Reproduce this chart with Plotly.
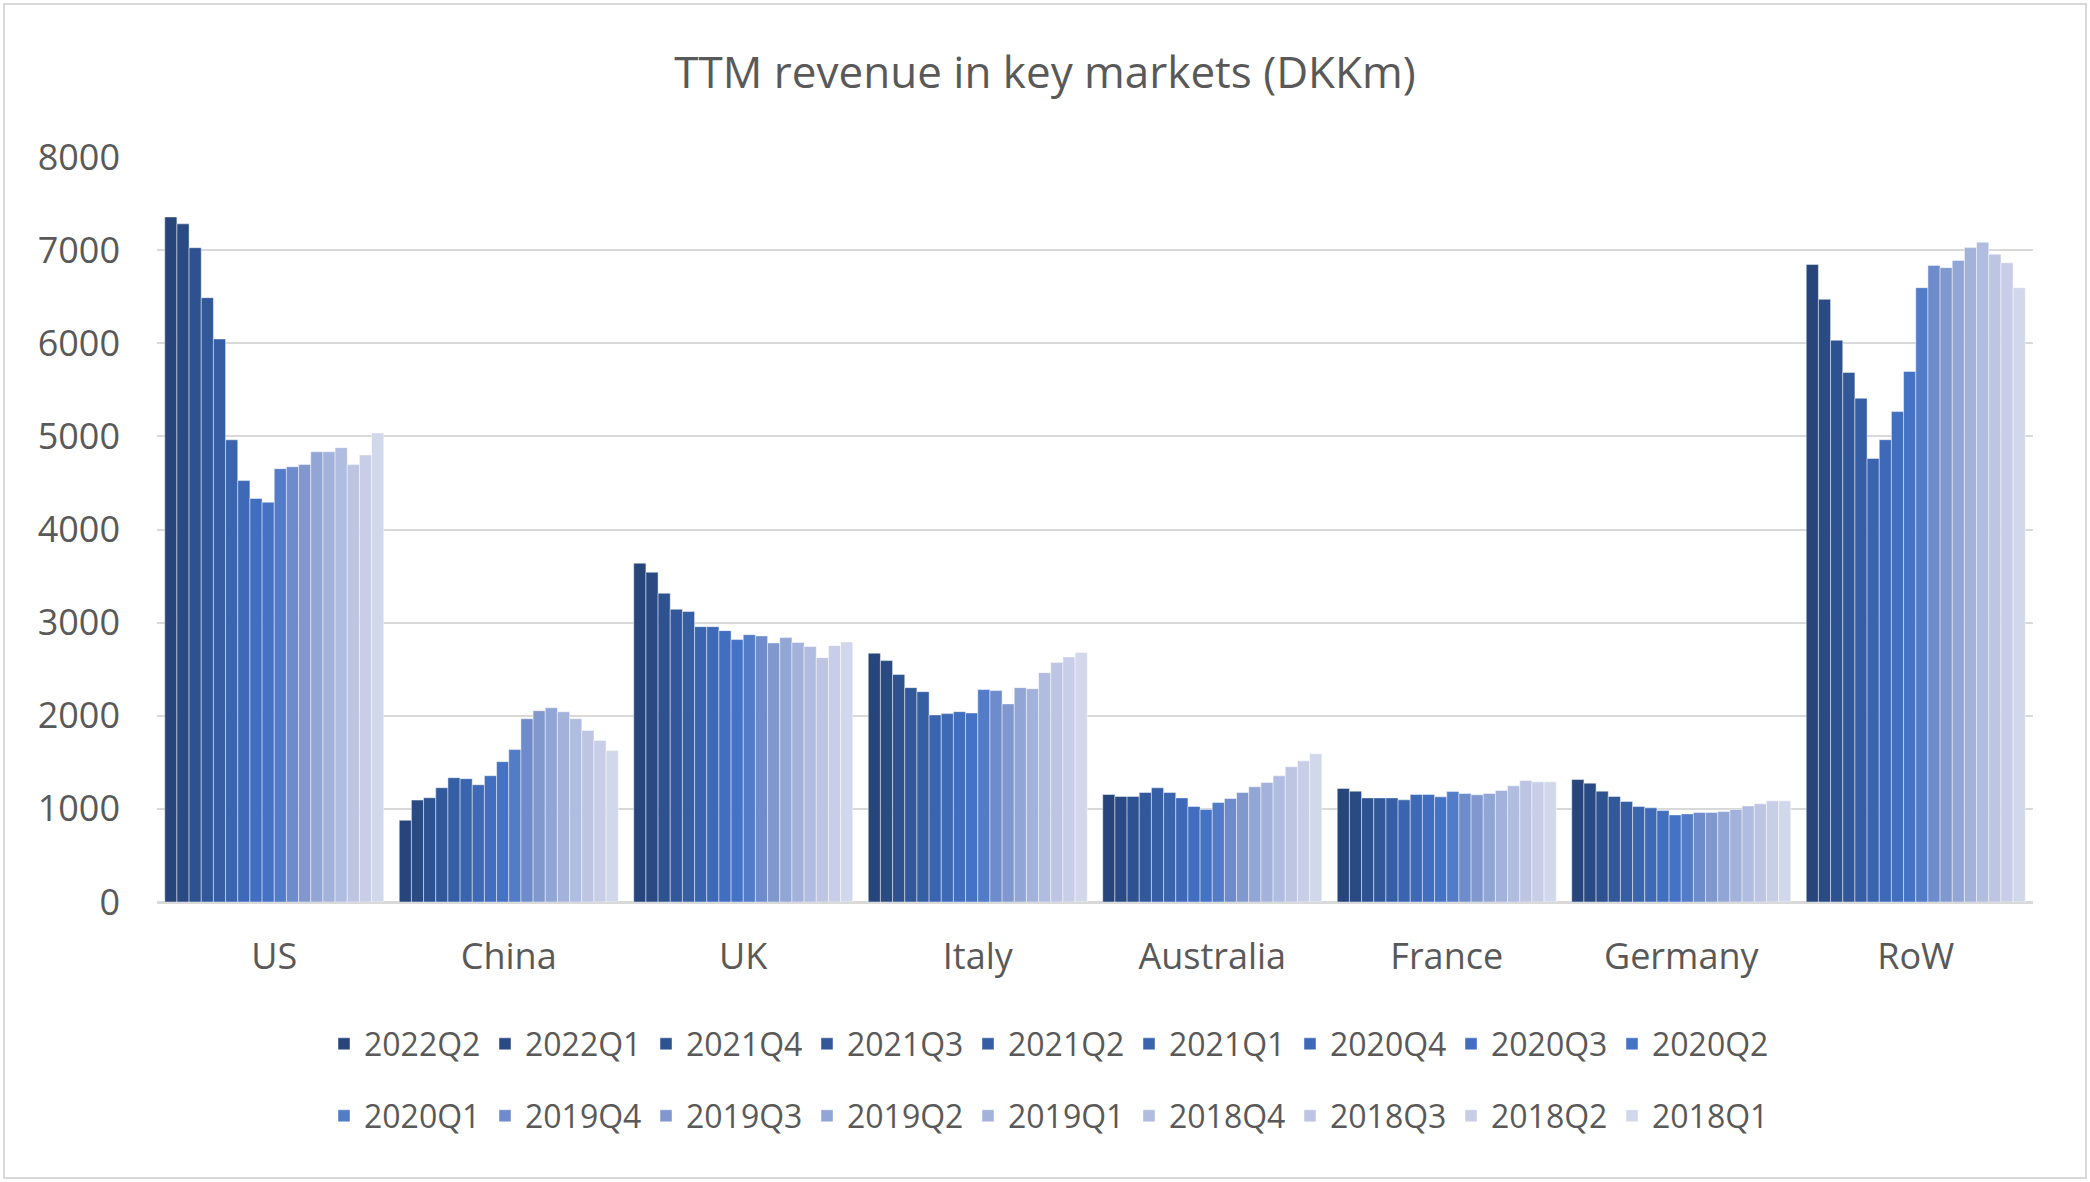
import plotly.graph_objects as go

markets = ["US", "China", "UK", "Italy", "Australia", "France", "Germany", "RoW"]

quarters = ["2022Q2", "2022Q1", "2021Q4", "2021Q3", "2021Q2", "2021Q1", "2020Q4", "2020Q3", "2020Q2",
            "2020Q1", "2019Q4", "2019Q3", "2019Q2", "2019Q1", "2018Q4", "2018Q3", "2018Q2", "2018Q1"]

# values per market, ordered like `quarters`
us = [7356, 7282, 7026, 6489, 6046, 4963, 4525, 4333, 4293, 4653, 4673, 4697, 4835, 4835, 4879, 4697, 4801, 5037]
china = [878, 1094, 1119, 1227, 1335, 1324, 1259, 1356, 1507, 1637, 1968, 2054, 2086, 2043, 1968, 1842, 1734, 1626]
uk = [3638, 3541, 3315, 3144, 3119, 2957, 2957, 2914, 2818, 2871, 2857, 2782, 2839, 2786, 2743, 2624, 2753, 2793]
italy = [2671, 2592, 2442, 2302, 2259, 2009, 2023, 2044, 2030, 2281, 2270, 2127, 2302, 2291, 2463, 2571, 2632, 2678]
australia = [1154, 1133, 1133, 1176, 1226, 1176, 1118, 1025, 993, 1068, 1111, 1176, 1237, 1283, 1355, 1452, 1516, 1591]
france = [1219, 1190, 1118, 1118, 1118, 1097, 1154, 1154, 1129, 1186, 1165, 1151, 1165, 1197, 1247, 1305, 1290, 1290]
germany = [1315, 1276, 1190, 1133, 1079, 1025, 1011, 982, 935, 946, 961, 961, 971, 993, 1032, 1054, 1086, 1086]
row = [6845, 6472, 6032, 5687, 5409, 4763, 4964, 5266, 5697, 6597, 6836, 6812, 6888, 7027, 7085, 6956, 6864, 6597]

colors = ["#27457a", "#2a4a84", "#2e518f", "#325899", "#365ea4", "#3a64ae", "#3d69b7", "#416ebf", "#4472c4",
          "#527bc8", "#6e8bcb", "#8198cf", "#92a6d6", "#a2b2db", "#b0bce0", "#bdc5e3", "#c8cee7", "#d2d8eb"]

series = [us, china, uk, italy, australia, france, germany, row]

FONT = "Open Sans"
TXT = "#595959"

fig = go.Figure()
for qi, q in enumerate(quarters):
    vals = [s[qi] for s in series]
    fig.add_trace(go.Bar(
        x=markets, y=vals, name=q,
        marker=dict(color=colors[qi], line=dict(color="rgba(255,255,255,0.45)", width=1)),
        legend="legend" if qi < 9 else "legend2",
    ))

W, H = 2090, 1182
L, R, T, B = 157, 57, 157, 280
pw, ph = W - L - R, H - T - B

def px_to_paper_x(x):
    return (x - L) / pw

def px_to_paper_y(y):
    return (H - B - y) / ph

legend_common = dict(
    orientation="h", font=dict(family=FONT, size=32, color=TXT),
    entrywidth=116, entrywidthmode="pixels", xanchor="left", yanchor="middle",
    bgcolor="rgba(0,0,0,0)", itemclick=False,
)

fig.update_layout(
    width=W, height=H,
    margin=dict(l=L, r=R, t=T, b=B),
    paper_bgcolor="white", plot_bgcolor="white",
    barmode="group", bargap=0.066, bargroupgap=0,
    title=dict(text="TTM revenue in key markets (DKKm)", x=0.5, xanchor="center",
               y=1 - 73 / H, yanchor="middle",
               font=dict(family=FONT, size=44, color=TXT)),
    font=dict(family=FONT, color=TXT),
    legend=dict(**legend_common, x=px_to_paper_x(324), y=px_to_paper_y(1044)),
    legend2=dict(**legend_common, x=px_to_paper_x(324), y=px_to_paper_y(1116)),
    xaxis=dict(showgrid=False, showline=True, linecolor="#d9d9d9", linewidth=2,
               ticks="", tickfont=dict(family=FONT, size=36, color=TXT),
               ticklabelstandoff=22),
    yaxis=dict(range=[0, 8000], tickvals=[0, 1000, 2000, 3000, 4000, 5000, 6000, 7000, 8000],
               showgrid=True, gridcolor="#d9d9d9", gridwidth=2,
               zeroline=True, zerolinecolor="#d9d9d9", zerolinewidth=2,
               ticks="", tickfont=dict(family=FONT, size=36, color=TXT),
               ticklabelstandoff=36, showline=False),
    shapes=[dict(type="rect", xref="paper", yref="paper",
                 x0=px_to_paper_x(4), x1=px_to_paper_x(2086),
                 y0=px_to_paper_y(1178), y1=px_to_paper_y(4),
                 line=dict(color="#d9d9d9", width=2), fillcolor="rgba(0,0,0,0)", layer="below")],
)

fig.write_html("out.html")
